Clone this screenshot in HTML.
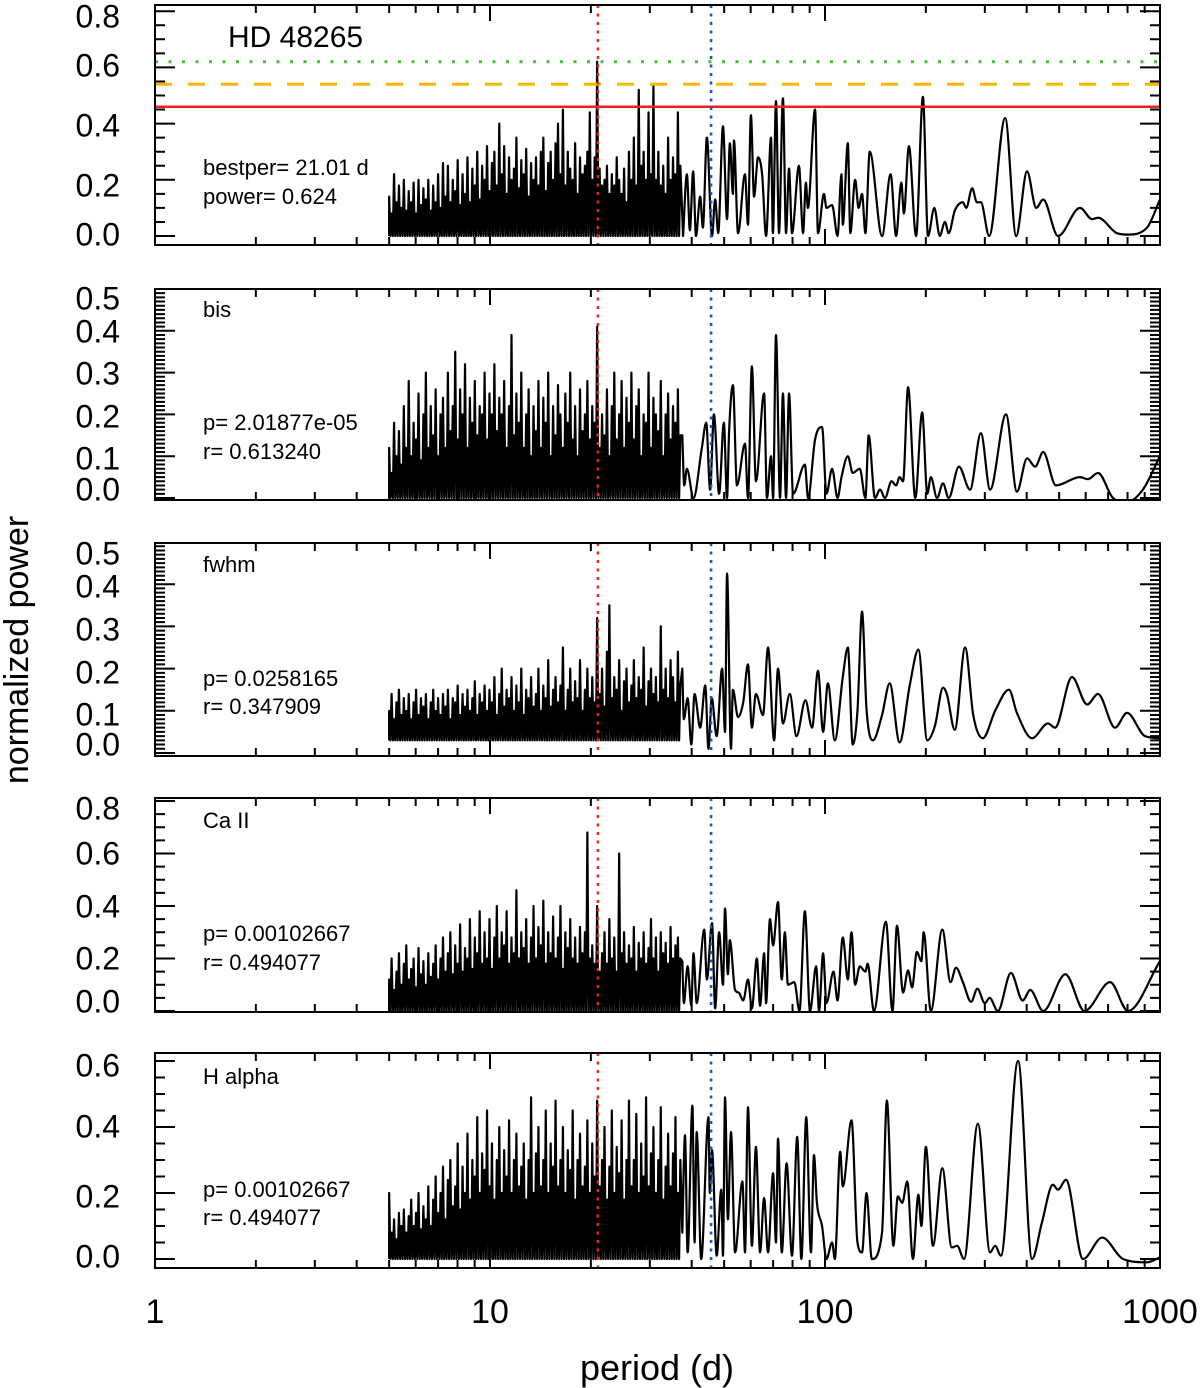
<!DOCTYPE html>
<html><head><meta charset="utf-8"><title>HD 48265 periodograms</title>
<style>
html,body{margin:0;padding:0;background:#fff;}
svg{display:block;font-family:"Liberation Sans",Arial,sans-serif;}
</style></head>
<body>
<svg id="chart" width="1200" height="1388" viewBox="0 0 1200 1388" xmlns="http://www.w3.org/2000/svg">
<rect width="1200" height="1388" fill="#fff"/>
<g id="layer"></g>
<text x="0" y="0" transform="translate(28,650) rotate(-90)" text-anchor="middle" font-size="34" fill="#000">normalized power</text>
<text x="657" y="1380" text-anchor="middle" font-size="36" fill="#000">period (d)</text>
<text x="228" y="47" font-size="30" fill="#000">HD 48265</text>
<text x="203" y="175" font-size="22" fill="#000">bestper= 21.01 d</text>
<text x="203" y="204" font-size="22" fill="#000">power= 0.624</text>
<text x="203" y="317" font-size="22" fill="#000">bis</text>
<text x="203" y="430" font-size="22" fill="#000">p= 2.01877e-05</text>
<text x="203" y="459" font-size="22" fill="#000">r= 0.613240</text>
<text x="203" y="572" font-size="22" fill="#000">fwhm</text>
<text x="203" y="686" font-size="22" fill="#000">p= 0.0258165</text>
<text x="203" y="714" font-size="22" fill="#000">r= 0.347909</text>
<text x="203" y="828" font-size="22" fill="#000">Ca II</text>
<text x="203" y="941" font-size="22" fill="#000">p= 0.00102667</text>
<text x="203" y="970" font-size="22" fill="#000">r= 0.494077</text>
<text x="203" y="1084" font-size="22" fill="#000">H alpha</text>
<text x="203" y="1197" font-size="22" fill="#000">p= 0.00102667</text>
<text x="203" y="1225" font-size="22" fill="#000">r= 0.494077</text>
</svg>
<script>
// ---------- data ----------
const xTickValues = [1, 10, 100, 1000];
const xTickLabels = ["1", "10", "100", "1000"];
const bestPeriod = 21.01;
const secondPeriod = 45.7;
const fapLevels = [0.46, 0.54, 0.62]; // red solid, orange dashed, green dotted
const denseStart = 5;
const denseEnd = 37;

const rvDense = [0.14,0.08,0.22,0.12,0.18,0.10,0.2,0.09,0.16,0.12,0.19,0.08,0.2,0.11,0.17,0.13,0.2,0.09,0.18,0.12,
0.22,0.1,0.26,0.14,0.25,0.12,0.2,0.16,0.27,0.11,0.22,0.15,0.28,0.12,0.24,0.18,0.3,0.13,0.25,0.2,
0.32,0.16,0.26,0.3,0.18,0.40,0.22,0.32,0.15,0.28,0.2,0.24,0.35,0.17,0.27,0.22,0.31,0.14,0.26,0.2,
0.28,0.18,0.3,0.35,0.16,0.26,0.3,0.2,0.33,0.40,0.22,0.45,0.18,0.3,0.24,0.2,0.33,0.15,0.28,0.22,
0.25,0.3,0.44,0.2,0.28,0.62,0.24,0.18,0.2,0.25,0.15,0.22,0.18,0.28,0.2,0.15,0.24,0.12,0.3,0.2,
0.35,0.18,0.52,0.25,0.3,0.2,0.44,0.22,0.54,0.2,0.3,0.18,0.25,0.15,0.35,0.2,0.28,0.22,0.44,0.25];
const rvCurve = [[37.7,0],[38.7,0.22],[39.5,0.02],[40.4,0.23],[41.2,0],[42.4,0.14],[43.2,0.03],[44.4,0.35],[46.0,0],[47.0,0.13],[48.0,0.01],[49.6,0.39],[51.0,0.06],[52.0,0.33],[53.1,0.15],[53.5,0.34],[55.0,0.01],[57.7,0.22],[58.9,0.04],[60.1,0.43],[61.4,0.14],[63.1,0.28],[64.9,0.22],[66.7,0],[69.0,0.35],[69.9,0.01],[71.4,0.48],[72.9,0.01],[74.9,0.49],[76.5,0.01],[78.1,0.24],[79.7,0.01],[83.6,0.25],[86.0,0.01],[87.7,0.19],[88.9,0.1],[93.4,0.45],[95.3,0.01],[99.3,0.15],[101,0.1],[105,0.11],[109,0],[112,0.22],[113,0.04],[117,0.33],[119,0.01],[123,0.2],[126,0.1],[129,0.15],[132,0.01],[136,0.3],[148,0],[157,0.22],[163,0],[169,0.19],[172,0.08],[178,0.32],[187,0],[196,0.495],[203,0],[212,0.10],[220,0],[228,0.05],[234,0.01],[244,0.09],[258,0.12],[264,0.1],[275,0.17],[284,0.12],[292,0.12],[309,0],[345,0.42],[372,0],[401,0.23],[427,0.1],[448,0.13],[496,0],[577,0.10],[627,0.06],[653,0.065],[744,0.01],[802,0.005],[915,0.03],[1000,0.13]];

const bisDense = [0.12,0.06,0.18,0.1,0.16,0.08,0.22,0.12,0.28,0.1,0.18,0.14,0.25,0.09,0.2,0.3,0.12,0.22,0.15,0.26,
0.1,0.2,0.24,0.12,0.3,0.16,0.22,0.35,0.14,0.26,0.2,0.32,0.12,0.24,0.18,0.28,0.15,0.22,0.2,0.3,
0.14,0.25,0.2,0.32,0.16,0.24,0.2,0.28,0.12,0.22,0.39,0.15,0.25,0.18,0.3,0.12,0.2,0.26,0.1,0.22,
0.16,0.28,0.12,0.24,0.18,0.3,0.1,0.22,0.15,0.27,0.2,0.12,0.25,0.18,0.3,0.14,0.22,0.1,0.26,0.16,
0.2,0.28,0.14,0.22,0.18,0.41,0.12,0.2,0.15,0.26,0.1,0.22,0.3,0.14,0.2,0.28,0.12,0.24,0.18,0.3,
0.14,0.22,0.26,0.1,0.2,0.18,0.3,0.12,0.24,0.2,0.16,0.28,0.1,0.2,0.25,0.14,0.22,0.18,0.26,0.15];
const bisCurve = [[37.5,0.15],[38.0,0.03],[38.7,0.07],[40.5,0.0],[42.9,0.12],[44.2,0.18],[45.4,0.02],[46.6,0.20],[48.3,0.01],[49.9,0.18],[51.0,0.0],[51.7,0.155],[53.1,0.27],[54.6,0.03],[57.7,0.13],[58.9,0],[60.5,0.315],[62.2,0.04],[65.8,0.25],[67.1,0.0],[69.0,0.10],[70.0,0],[71.4,0.39],[73.4,0.0],[74.9,0.25],[76.5,0.0],[78.1,0.25],[80.3,0.01],[87.1,0.08],[89.0,0],[93.4,0.14],[98.0,0.17],[101,0.01],[105,0.07],[109,0.0],[112,0.05],[117,0.10],[121,0.06],[127,0.07],[132,0],[135,0.15],[141,0],[146,0.02],[151,0],[158,0.04],[163,0.03],[167,0.05],[171,0.04],[177,0.265],[186,0],[195,0.205],[202,0.01],[207,0.05],[216,0.0],[225,0.035],[234,0],[251,0.075],[271,0.02],[292,0.155],[311,0.02],[347,0.20],[374,0.015],[401,0.095],[424,0.075],[448,0.11],[489,0.03],[577,0.05],[609,0.045],[653,0.06],[724,0.0],[797,-0.01],[889,0.02],[1000,0.10]];

const fwhmDense = [0.1,0.14,0.08,0.12,0.15,0.09,0.13,0.1,0.14,0.08,0.12,0.15,0.09,0.13,0.11,0.14,0.08,0.12,0.15,0.1,
0.13,0.09,0.14,0.11,0.15,0.08,0.13,0.12,0.16,0.09,0.14,0.11,0.15,0.1,0.13,0.17,0.09,0.14,0.12,0.16,
0.1,0.15,0.12,0.18,0.09,0.14,0.2,0.11,0.15,0.13,0.18,0.1,0.16,0.12,0.2,0.09,0.15,0.13,0.18,0.11,
0.14,0.2,0.1,0.16,0.13,0.22,0.11,0.15,0.18,0.12,0.16,0.25,0.1,0.15,0.2,0.12,0.17,0.13,0.22,0.1,
0.15,0.2,0.13,0.18,0.12,0.32,0.14,0.2,0.11,0.24,0.35,0.13,0.18,0.15,0.22,0.1,0.17,0.2,0.12,0.16,
0.22,0.13,0.18,0.15,0.25,0.11,0.17,0.2,0.14,0.18,0.12,0.3,0.15,0.2,0.13,0.22,0.18,0.12,0.24,0.16];
const fwhmCurve = [[37.5,0.2],[37.9,0.08],[38.9,0.13],[39.9,0.02],[40.8,0.14],[42.4,0.06],[43.9,0.16],[44.9,0.01],[45.9,0.13],[47.5,0.04],[49.3,0.2],[50.3,0.05],[51.0,0.425],[52.4,0.01],[53.1,0.15],[55.0,0.085],[57,0.12],[58.9,0.21],[60.5,0.06],[62.2,0.14],[65.3,0.09],[67.6,0.25],[70.5,0.03],[72.4,0.2],[74.9,0.07],[78.5,0.14],[82.2,0.04],[87.4,0.125],[91.5,0.06],[95.3,0.195],[98.7,0.05],[102,0.165],[107,0.03],[113,0.18],[117,0.25],[121,0.02],[125,0.1],[129,0.335],[133,0.105],[139,0.03],[148,0.09],[156,0.165],[167,0.025],[179,0.16],[190,0.245],[202,0.03],[213,0.065],[225,0.155],[231,0.14],[244,0.055],[262,0.25],[277,0.09],[296,0.035],[322,0.10],[354,0.15],[374,0.095],[415,0.035],[463,0.07],[486,0.06],[546,0.18],[606,0.115],[653,0.14],[734,0.06],[797,0.095],[902,0.04],[1000,0.035]];

const caDense = [0.12,0.2,0.08,0.15,0.22,0.1,0.18,0.25,0.12,0.16,0.2,0.09,0.24,0.14,0.19,0.1,0.22,0.13,0.18,0.25,
0.12,0.2,0.28,0.15,0.22,0.3,0.14,0.25,0.18,0.33,0.15,0.24,0.2,0.35,0.16,0.28,0.22,0.38,0.18,0.3,
0.2,0.35,0.16,0.28,0.4,0.2,0.3,0.25,0.38,0.18,0.28,0.22,0.46,0.2,0.3,0.24,0.35,0.18,0.28,0.4,
0.2,0.32,0.25,0.42,0.18,0.3,0.22,0.36,0.2,0.28,0.4,0.16,0.3,0.24,0.35,0.2,0.28,0.18,0.32,0.22,
0.3,0.68,0.2,0.25,0.18,0.4,0.15,0.22,0.3,0.18,0.35,0.2,0.28,0.15,0.6,0.22,0.3,0.18,0.25,0.2,
0.32,0.15,0.26,0.2,0.3,0.18,0.24,0.35,0.2,0.28,0.15,0.3,0.22,0.26,0.18,0.32,0.2,0.25,0.28,0.2];
const caCurve = [[37.5,0.19],[37.9,0.03],[38.9,0.17],[39.9,0.02],[40.5,0.22],[41.4,0.03],[43.6,0.31],[44.4,0.12],[46.0,0.335],[47.0,0.01],[48.3,0.30],[49.6,0.1],[50.3,0.39],[51.3,0.14],[52.0,0.27],[53.9,0.08],[55.3,0.07],[57,0.04],[58.9,0.12],[60.5,0.01],[62.6,0.2],[64.0,0.02],[65.8,0.22],[66.7,0.03],[68.5,0.35],[70.0,0.25],[72.4,0.415],[74.3,0.12],[75.9,0.30],[77.5,0.1],[81.0,0.11],[83.9,0],[87.1,0.38],[90.2,0],[94.1,0.17],[96.0,0],[98.7,0.22],[101,0.03],[106,0.15],[109,0.04],[113,0.28],[117,0.12],[120,0.30],[123,0.1],[127,0.17],[132,0.15],[134,0.18],[140,0],[152,0.34],[159,0],[164,0.325],[171,0.07],[177,0.155],[182,0.09],[188,0.225],[194,0.19],[197,0.30],[207,0],[224,0.31],[237,0.11],[246,0.165],[258,0.11],[273,0.035],[285,0.085],[300,0.03],[310,0.05],[328,0],[359,0.145],[389,0.04],[410,0.08],[448,0],[522,0.14],[595,0],[710,0.11],[802,0],[1000,0.19]];

const haDense = [0.2,0.08,0.12,0.06,0.14,0.1,0.15,0.08,0.13,0.18,0.1,0.14,0.2,0.09,0.16,0.12,0.22,0.1,0.18,0.25,
0.14,0.2,0.28,0.12,0.24,0.3,0.16,0.22,0.35,0.15,0.28,0.2,0.38,0.18,0.3,0.25,0.43,0.2,0.32,0.27,
0.45,0.22,0.35,0.18,0.3,0.4,0.2,0.33,0.25,0.42,0.2,0.3,0.38,0.22,0.28,0.35,0.18,0.3,0.49,0.2,
0.32,0.4,0.22,0.3,0.45,0.2,0.35,0.28,0.48,0.22,0.3,0.4,0.2,0.33,0.27,0.45,0.18,0.3,0.38,0.22,
0.28,0.42,0.2,0.35,0.25,0.48,0.22,0.3,0.4,0.18,0.28,0.45,0.2,0.34,0.26,0.42,0.18,0.3,0.48,0.22,
0.3,0.44,0.2,0.35,0.25,0.49,0.22,0.32,0.4,0.2,0.3,0.46,0.18,0.28,0.38,0.22,0.32,0.43,0.2,0.3];
const haCurve = [[37.5,0.08],[38.2,0.375],[38.9,0.02],[40.2,0.465],[40.8,0.05],[41.4,0.385],[42.7,0],[44.9,0.43],[45.3,0.2],[46.0,0.33],[47.5,0.01],[49.0,0.21],[49.6,0.01],[50.3,0.49],[51.3,0.12],[52.4,0.385],[53.9,0.02],[56.7,0.235],[57.7,0.02],[58.9,0.46],[60.5,0.04],[62.2,0.34],[64.0,0.02],[65.8,0.185],[67.6,0.02],[70.0,0.26],[71.4,0.05],[72.4,0.365],[74.3,0.02],[76.8,0.29],[79.7,0.01],[82.6,0.37],[85.0,0.0],[87.9,0.43],[90.8,0.02],[92.7,0.315],[94.6,0.17],[98.0,0.10],[101,0],[105,0.05],[107,0],[111,0.325],[113,0.22],[120,0.42],[125,0.05],[129,0.02],[133,0.20],[138,0],[148,0.08],[153,0.48],[160,0.04],[165,0.19],[170,0.17],[176,0.235],[183,0],[190,0.195],[194,0.10],[200,0.34],[210,0.04],[224,0.275],[239,0.035],[248,0.04],[260,0],[286,0.41],[311,0.02],[322,0.04],[335,0.01],[377,0.60],[415,0],[444,0.11],[479,0.225],[496,0.21],[524,0.24],[589,0],[672,0.065],[776,0.0],[915,-0.01],[1000,0.005]];

const panelNames = ["rv", "bis", "fwhm", "caii", "halpha"];
const panelDense = [rvDense, bisDense, fwhmDense, caDense, haDense];
const panelCurves = [rvCurve, bisCurve, fwhmCurve, caCurve, haCurve];
const panelFloors = [0, 0, 0.03, 0, 0];
const yTickLabels = [["0.8","0.6","0.4","0.2","0.0"],["0.5","0.4","0.3","0.2","0.1","0.0"],["0.5","0.4","0.3","0.2","0.1","0.0"],["0.8","0.6","0.4","0.2","0.0"],["0.6","0.4","0.2","0.0"]];

// ---------- layout (pixels, styling) ----------
const X0 = 155, X1 = 1160;
const layout = [
  {top:5, bottom:245, y0:236, k:281, major:0.2, minor:0.05, labelY:[16,65,125,185,234]},
  {top:289, bottom:500, y0:498, k:418, major:0.1, minor:0.01, labelY:[298,331,373,416,458,489]},
  {top:543, bottom:756, y0:753, k:422, major:0.1, minor:0.01, labelY:[553,586,629,672,714,744]},
  {top:798, bottom:1012, y0:1011, k:262.5, major:0.2, minor:0.05, labelY:[808,853,906,958,1001]},
  {top:1053, bottom:1268, y0:1259, k:330, major:0.2, minor:0.05, labelY:[1065,1126,1196,1256]}
];

const NS = "http://www.w3.org/2000/svg";
const layer = document.getElementById("layer");
function mk(tag, attrs, parent) {
  const e = document.createElementNS(NS, tag);
  for (const k in attrs) e.setAttribute(k, attrs[k]);
  (parent || layer).appendChild(e);
  return e;
}
function xs(p) { return X0 + (X1 - X0) * Math.log10(p) / 3; }
function ysFor(L) { return v => L.y0 - v * L.k; }

function monoPath(pts) {
  const n = pts.length;
  if (n < 2) return "";
  const dx = [], m = [];
  for (let i = 0; i < n - 1; i++) { dx.push(pts[i+1][0] - pts[i][0]); m.push((pts[i+1][1] - pts[i][1]) / dx[i]); }
  const t = [m[0]];
  for (let i = 1; i < n - 1; i++) t.push(m[i-1] * m[i] <= 0 ? 0 : (m[i-1] + m[i]) / 2);
  t.push(m[n-2]);
  for (let i = 0; i < n - 1; i++) {
    if (m[i] === 0) { t[i] = 0; t[i+1] = 0; continue; }
    const a = t[i] / m[i], b = t[i+1] / m[i], s = a*a + b*b;
    if (s > 9) { const q = 3 / Math.sqrt(s); t[i] = q*a*m[i]; t[i+1] = q*b*m[i]; }
  }
  let d = "";
  for (let i = 0; i < n - 1; i++) {
    const h = dx[i] / 3;
    d += " C" + (pts[i][0]+h).toFixed(2) + "," + (pts[i][1]+t[i]*h).toFixed(2) + " " +
         (pts[i+1][0]-h).toFixed(2) + "," + (pts[i+1][1]-t[i+1]*h).toFixed(2) + " " +
         pts[i+1][0].toFixed(2) + "," + pts[i+1][1].toFixed(2);
  }
  return d;
}

layout.forEach((L, pi) => {
  const ys = ysFor(L);
  const g = mk("g", {});
  
  
  const cid = "clip" + pi;
  const cp = mk("clipPath", {id: cid}, g);
  mk("rect", {x: X0, y: L.top, width: X1 - X0, height: L.bottom - L.top}, cp);

  // series
  const dense = panelDense[pi];
  const N = dense.length;
  const floor = panelFloors[pi];
  let d = "";
  for (let i = 0; i < N; i++) {
    const p = denseStart * Math.pow(denseEnd / denseStart, i / (N - 1));
    const x = xs(p), y = ys(dense[i]);
    d += (i === 0 ? "M" + x.toFixed(2) + "," + ys(floor).toFixed(2) + " L" : " L") + x.toFixed(2) + "," + y.toFixed(2);
    if (i < N - 1) {
      const pm = denseStart * Math.pow(denseEnd / denseStart, (i + 0.5) / (N - 1));
      d += " L" + xs(pm).toFixed(2) + "," + ys(floor).toFixed(2);
    }
  }
  const curve = panelCurves[pi];
  const pts = curve.map(c => [xs(c[0]), ys(c[1])]);
  d += " L" + pts[0][0].toFixed(2) + "," + pts[0][1].toFixed(2) + monoPath(pts);
  const line = mk("path", {d: d, fill: "none", stroke: "#000", "stroke-width": 2.2, "stroke-linejoin": "round", "clip-path": "url(#" + cid + ")"}, g);
  
  

  // FAP lines in first panel
  if (pi === 0) {
    const red = mk("line", {x1: X0, x2: X1, y1: ys(fapLevels[0]), y2: ys(fapLevels[0]), stroke: "#ee2222", "stroke-width": 2.5}, g);
    
    
    const org = mk("line", {x1: X0, x2: X1, y1: ys(fapLevels[1]), y2: ys(fapLevels[1]), stroke: "#ffb400", "stroke-width": 3, "stroke-dasharray": "17,16"}, g);
    
    
    const grn = mk("line", {x1: X0, x2: X1, y1: ys(fapLevels[2]), y2: ys(fapLevels[2]), stroke: "#44c033", "stroke-width": 3, "stroke-dasharray": "3,10.5"}, g);
    
    
  }

  // vertical period markers
  const vr = mk("line", {x1: xs(bestPeriod), x2: xs(bestPeriod), y1: L.top, y2: L.bottom, stroke: "#ee2222", "stroke-width": 2.6, "stroke-dasharray": "3,5.5"}, g);
  
  
  const vb = mk("line", {x1: xs(secondPeriod), x2: xs(secondPeriod), y1: L.top, y2: L.bottom, stroke: "#2255bb", "stroke-width": 2.6, "stroke-dasharray": "3,5.5"}, g);
  
  

  // frame
  const fr = mk("rect", {x: X0, y: L.top, width: X1 - X0, height: L.bottom - L.top, fill: "none", stroke: "#000", "stroke-width": 2}, g);
  
  

  // x ticks
  let td = "";
  for (let dec = 1; dec <= 1000; dec *= 10) {
    const xm = xs(dec);
    td += "M" + xm + "," + L.top + "v16 M" + xm + "," + L.bottom + "v-16 ";
    if (dec < 1000) for (let k = 2; k <= 9; k++) {
      const x = xs(k * dec);
      td += "M" + x + "," + L.top + "v8 M" + x + "," + L.bottom + "v-8 ";
    }
  }
  // y ticks
  const vTop = (L.y0 - L.top) / L.k, vBot = (L.y0 - L.bottom) / L.k;
  const nMin = Math.ceil(vBot / L.minor - 1e-6), nMax = Math.floor(vTop / L.minor + 1e-6);
  const ratio = Math.round(L.major / L.minor);
  for (let n = nMin; n <= nMax; n++) {
    const y = ys(n * L.minor);
    const len = (n % ratio === 0) ? 20 : 10;
    td += "M" + X0 + "," + y + "h" + len + " M" + X1 + "," + y + "h-" + len + " ";
  }
  const ticks = mk("path", {d: td, stroke: "#000", "stroke-width": 2, fill: "none"}, g);
  
  

  // y tick labels
  yTickLabels[pi].forEach((lab, j) => {
    const t = mk("text", {x: 120, y: L.labelY[j] + 11.5, "text-anchor": "end", "font-size": 32, fill: "#000"}, g);
    t.textContent = lab;
    
    
  });
});

// x tick labels (bottom)
xTickValues.forEach((v, i) => {
  const t = mk("text", {x: xs(v), y: 1323, "text-anchor": "middle", "font-size": 34, fill: "#000"});
  t.textContent = xTickLabels[i];
  
  
});
</script>
</body></html>
